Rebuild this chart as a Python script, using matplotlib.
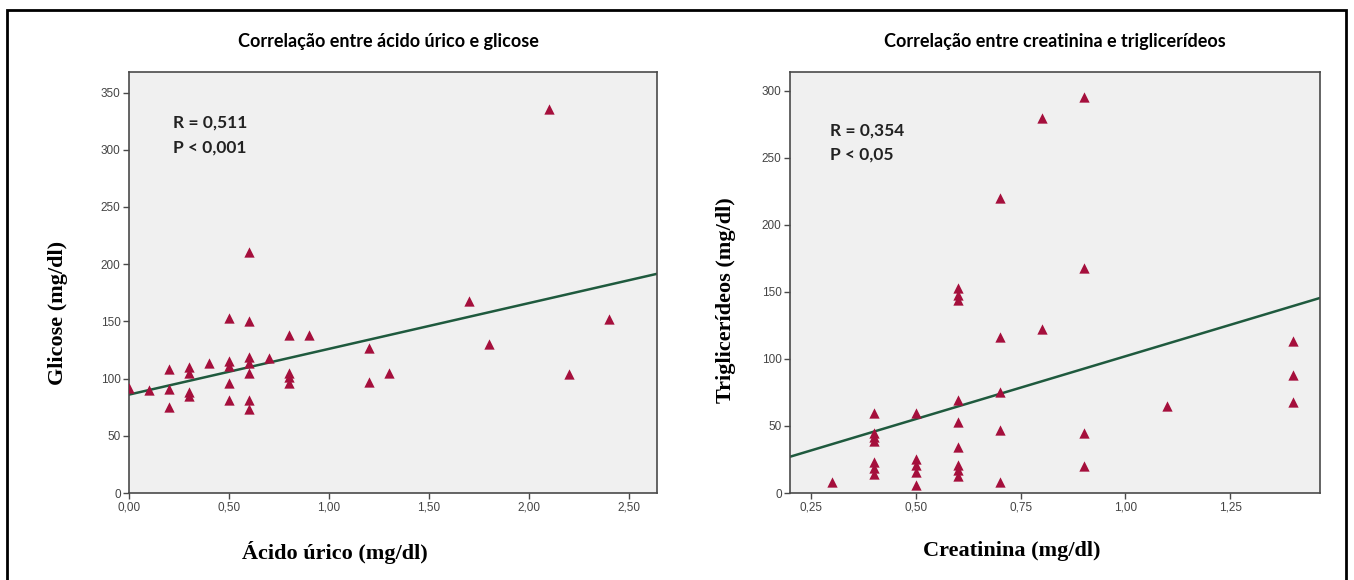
import numpy as np
import matplotlib.pyplot as plt
from matplotlib.patches import Rectangle

# left chart: uric acid vs glucose
acido_urico = [0.0, 0.1, 0.2, 0.2, 0.2, 0.3, 0.3, 0.3, 0.3, 0.4,
               0.5, 0.5, 0.5, 0.5, 0.5, 0.6, 0.6, 0.6, 0.6, 0.6, 0.6, 0.6,
               0.7, 0.8, 0.8, 0.8, 0.8, 0.9, 1.2, 1.2, 1.3, 1.7, 1.8, 2.1, 2.2, 2.4]
glicose = [92, 90, 108, 91, 75, 110, 105, 88, 85, 114,
           153, 115, 111, 96, 81, 211, 150, 119, 114, 105, 81, 73,
           118, 138, 105, 101, 96, 138, 127, 97, 105, 168, 130, 336, 104, 152]
reta_glicose = (86.0, 40.0)        # intercept, slope of the fitted line

# right chart: creatinine vs triglycerides
creatinina = [0.3, 0.4, 0.4, 0.4, 0.4, 0.4, 0.4, 0.4,
              0.5, 0.5, 0.5, 0.5, 0.5,
              0.6, 0.6, 0.6, 0.6, 0.6, 0.6, 0.6, 0.6, 0.6,
              0.7, 0.7, 0.7, 0.7, 0.7,
              0.8, 0.8, 0.9, 0.9, 0.9, 0.9, 1.1, 1.4, 1.4, 1.4]
triglicerideos = [8, 60, 45, 42, 39, 23, 19, 14,
                  60, 25, 21, 16, 6,
                  153, 148, 144, 69, 53, 34, 21, 17, 13,
                  220, 116, 75, 47, 8,
                  280, 122, 295, 168, 45, 20, 65, 113, 88, 68]
reta_tg = (8.3, 93.7)

left_xticks = [0.0, 0.5, 1.0, 1.5, 2.0, 2.5]
left_yticks = [0, 50, 100, 150, 200, 250, 300, 350]
right_xticks = [0.25, 0.5, 0.75, 1.0, 1.25]
right_yticks = [0, 50, 100, 150, 200, 250, 300]

W, H = 1354, 580
fig = plt.figure(figsize=(W / 100, H / 100), dpi=100)
fig.patch.set_facecolor('white')

# outer black frame (bottom edge falls outside the picture)
fig.patches.append(Rectangle((7 / W, -0.05), (1346 - 7) / W, 1.05 - 10 / H,
                             transform=fig.transFigure, fill=False,
                             edgecolor='black', linewidth=2))

ax1 = fig.add_axes([129 / W, 1 - 493 / H, (657 - 129) / W, (493 - 72) / H])
ax2 = fig.add_axes([790 / W, 1 - 493 / H, (1320 - 790) / W, (493 - 72) / H])

def style(ax, xticks, yticks, xlim, ylim, xfmt):
    ax.set_facecolor('#F0F0F0')
    ax.set_xlim(xlim)
    ax.set_ylim(ylim)
    ax.set_xticks(xticks)
    ax.set_xticklabels([format(v, xfmt).replace('.', ',') for v in xticks])
    ax.set_yticks(yticks)
    ax.set_yticklabels([str(v) for v in yticks])
    for s in ax.spines.values():
        s.set_color('#4A4A4A')
        s.set_linewidth(1.2)
    ax.tick_params(direction='out', length=4, width=1.0, color='#4A4A4A',
                   labelsize=8.5, labelcolor='#444444', pad=2)
    for lab in ax.get_xticklabels() + ax.get_yticklabels():
        lab.set_family('Liberation Sans')

mcolor = '#A50F3C'
lcolor = '#1F5A3E'

# left
style(ax1, left_xticks, left_yticks, (0, 2.64), (0, 368), '.2f')
xl = np.array(ax1.get_xlim())
ax1.plot(xl, reta_glicose[0] + reta_glicose[1] * xl, color=lcolor, lw=1.8, zorder=2)
ax1.scatter(acido_urico, glicose, marker='^', s=55, color=mcolor, zorder=3, linewidths=0)
ax1.text(0.083, 0.879, 'R = 0,511', transform=ax1.transAxes, family='Lato',
         fontweight='bold', fontsize=12.5, va='center', color='#222222')
ax1.text(0.083, 0.82, 'P < 0,001', transform=ax1.transAxes, family='Lato',
         fontweight='bold', fontsize=12.5, va='center', color='#222222')

# right
style(ax2, right_xticks, right_yticks, (0.20, 1.464), (0, 314), '.2f')
xr = np.array(ax2.get_xlim())
ax2.plot(xr, reta_tg[0] + reta_tg[1] * xr, color=lcolor, lw=1.8, zorder=2)
ax2.scatter(creatinina, triglicerideos, marker='^', s=55, color=mcolor, zorder=3, linewidths=0)
ax2.text(0.075, 0.862, 'R = 0,354', transform=ax2.transAxes, family='Lato',
         fontweight='bold', fontsize=12.5, va='center', color='#222222')
ax2.text(0.075, 0.803, 'P < 0,05', transform=ax2.transAxes, family='Lato',
         fontweight='bold', fontsize=12.5, va='center', color='#222222')

# titles and axis labels
fig.text(388 / W, 1 - 41 / H, 'Correlação entre ácido úrico e glicose', family='Lato',
         fontweight='bold', fontsize=13, ha='center', va='center')
fig.text(1055 / W, 1 - 41 / H, 'Correlação entre creatinina e triglicerídeos', family='Lato',
         fontweight='bold', fontsize=13, ha='center', va='center')
fig.text(335 / W, 1 - 553 / H, 'Ácido úrico (mg/dl)', family='Liberation Serif',
         fontweight='bold', fontsize=16, ha='center', va='center')
fig.text(1012 / W, 1 - 551 / H, 'Creatinina (mg/dl)', family='Liberation Serif',
         fontweight='bold', fontsize=16, ha='center', va='center')
fig.text(58 / W, 1 - 313 / H, 'Glicose (mg/dl)', family='Liberation Serif',
         fontweight='bold', fontsize=16, ha='center', va='center', rotation=90)
fig.text(726 / W, 1 - 300 / H, 'Triglicerídeos (mg/dl)', family='Liberation Serif',
         fontweight='bold', fontsize=16, ha='center', va='center', rotation=90)

fig.savefig('out.png', dpi=100)
